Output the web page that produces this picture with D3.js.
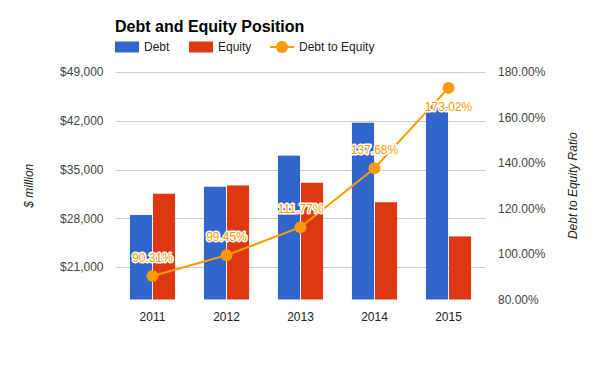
<!DOCTYPE html>
<html>
<head>
<meta charset="utf-8">
<script src="https://cdnjs.cloudflare.com/ajax/libs/d3/7.8.5/d3.min.js"></script>
<style>
  body { margin: 0; background: #fff; }
  text { font-family: Arial, "Liberation Sans", sans-serif; }
</style>
</head>
<body>
<div id="chart"></div>
<script>
// data
const years = ["2011", "2012", "2013", "2014", "2015"];
const debt = [28470, 32530, 36990, 41720, 43930];
const equity = [31525, 32710, 33095, 30300, 25390];
const ratio = [90.31, 99.45, 111.77, 137.68, 173.02];
const leftTicks = [21000, 28000, 35000, 42000, 49000];
const rightTicks = [80, 100, 120, 140, 160, 180];

const W = 600, H = 371;
const plot = { left: 115.5, right: 485.5, top: 72, bottom: 299.5 };

const svg = d3.select("#chart").append("svg")
    .attr("width", W)
    .attr("height", H);

const x = d3.scaleBand()
    .domain(years)
    .range([plot.left, plot.right])
    .paddingInner(0.39)
    .paddingOuter(0.195);

const xSub = d3.scaleBand()
    .domain(["debt", "equity"])
    .range([0, x.bandwidth()])
    .paddingInner(0.04);

// left scale: 49000 at top gridline, 21000 at lowest gridline
const yLeft = d3.scaleLinear()
    .domain([21000, 49000])
    .range([267, 72]);
const leftMin = yLeft.invert(plot.bottom);

const yRight = d3.scaleLinear()
    .domain([80, 180])
    .range([plot.bottom, plot.top]);

// gridlines
svg.append("g").selectAll("line")
    .data(leftTicks)
    .join("line")
    .attr("x1", plot.left)
    .attr("x2", plot.right)
    .attr("y1", d => Math.round(yLeft(d)) + 0.5)
    .attr("y2", d => Math.round(yLeft(d)) + 0.5)
    .attr("stroke", "#cccccc");

// left axis
const fmtDollar = d => "$" + d3.format(",")(d);
const leftAxis = svg.append("g")
    .attr("transform", `translate(${plot.left - 12},0)`)
    .call(d3.axisLeft(yLeft).tickValues(leftTicks).tickFormat(fmtDollar).tickSize(0).tickPadding(0));
leftAxis.select(".domain").remove();
leftAxis.selectAll("text")
    .attr("font-size", 12)
    .attr("fill", "#444")
    .attr("font-family", "Arial, 'Liberation Sans', sans-serif");

// right axis
const rightAxis = svg.append("g")
    .attr("transform", `translate(${plot.right + 12.5},0)`)
    .call(d3.axisRight(yRight).tickValues(rightTicks).tickFormat(d => d.toFixed(2) + "%").tickSize(0).tickPadding(0));
rightAxis.select(".domain").remove();
rightAxis.selectAll("text")
    .attr("font-size", 12)
    .attr("fill", "#444")
    .attr("font-family", "Arial, 'Liberation Sans', sans-serif");

// x axis labels
const xAxis = svg.append("g")
    .attr("transform", `translate(0,${plot.bottom + 7})`)
    .call(d3.axisBottom(x).tickSize(0).tickPadding(6));
xAxis.select(".domain").remove();
xAxis.selectAll("text")
    .attr("font-size", 12)
    .attr("fill", "#222")
    .attr("font-family", "Arial, 'Liberation Sans', sans-serif");

// bars
const groups = svg.append("g").selectAll("g")
    .data(years)
    .join("g")
    .attr("transform", d => `translate(${x(d)},0)`);

groups.append("rect")
    .attr("x", xSub("debt"))
    .attr("width", xSub.bandwidth())
    .attr("y", (d, i) => yLeft(debt[i]))
    .attr("height", (d, i) => yLeft(leftMin) - yLeft(debt[i]))
    .attr("fill", "#3366cc");

groups.append("rect")
    .attr("x", xSub("equity"))
    .attr("width", xSub.bandwidth())
    .attr("y", (d, i) => yLeft(equity[i]))
    .attr("height", (d, i) => yLeft(leftMin) - yLeft(equity[i]))
    .attr("fill", "#dc3912");

// ratio line
const cx = d => x(d) + x.bandwidth() / 2;
const line = d3.line()
    .x((d, i) => cx(years[i]))
    .y(d => yRight(d));

svg.append("path")
    .datum(ratio)
    .attr("d", line)
    .attr("fill", "none")
    .attr("stroke", "#ff9900")
    .attr("stroke-width", 2);

svg.append("g").selectAll("circle")
    .data(ratio)
    .join("circle")
    .attr("cx", (d, i) => cx(years[i]))
    .attr("cy", d => yRight(d))
    .attr("r", 6)
    .attr("fill", "#ff9900");

// point labels with white halo
svg.append("g").selectAll("text")
    .data(ratio)
    .join("text")
    .attr("x", (d, i) => cx(years[i]))
    .attr("y", d => {
        const py = yRight(d);
        return py - 18 < plot.top + 8 ? py + 23 : py - 14;
    })
    .attr("text-anchor", "middle")
    .attr("font-size", 12)
    .attr("fill", "#ff9900")
    .attr("stroke", "#fff")
    .attr("stroke-width", 3)
    .attr("stroke-linejoin", "round")
    .attr("paint-order", "stroke")
    .text(d => d.toFixed(2) + "%");

// title
svg.append("text")
    .attr("x", 115)
    .attr("y", 32)
    .attr("font-size", 16)
    .attr("font-weight", "bold")
    .attr("fill", "#000")
    .text("Debt and Equity Position");

// legend
const legend = svg.append("g").attr("transform", "translate(0,47)");
legend.append("rect").attr("x", 115).attr("y", -5.5).attr("width", 24).attr("height", 11).attr("fill", "#3366cc");
legend.append("text").attr("x", 144).attr("y", 4).attr("font-size", 12).attr("fill", "#222").text("Debt");
legend.append("rect").attr("x", 189).attr("y", -5.5).attr("width", 24).attr("height", 11).attr("fill", "#dc3912");
legend.append("text").attr("x", 218).attr("y", 4).attr("font-size", 12).attr("fill", "#222").text("Equity");
legend.append("line").attr("x1", 270).attr("x2", 294).attr("y1", 0).attr("y2", 0).attr("stroke", "#ff9900").attr("stroke-width", 2);
legend.append("circle").attr("cx", 282).attr("cy", 0).attr("r", 6).attr("fill", "#ff9900");
legend.append("text").attr("x", 299).attr("y", 4).attr("font-size", 12).attr("fill", "#222").text("Debt to Equity");

// axis titles
svg.append("text")
    .attr("transform", `translate(33,${(plot.top + plot.bottom) / 2}) rotate(-90)`)
    .attr("text-anchor", "middle")
    .attr("font-size", 12)
    .attr("font-style", "italic")
    .attr("fill", "#222")
    .text("$ million");

svg.append("text")
    .attr("transform", `translate(577,${(plot.top + plot.bottom) / 2}) rotate(-90)`)
    .attr("text-anchor", "middle")
    .attr("font-size", 12)
    .attr("font-style", "italic")
    .attr("fill", "#222")
    .text("Debt to Equity Ratio");
</script>
</body>
</html>
